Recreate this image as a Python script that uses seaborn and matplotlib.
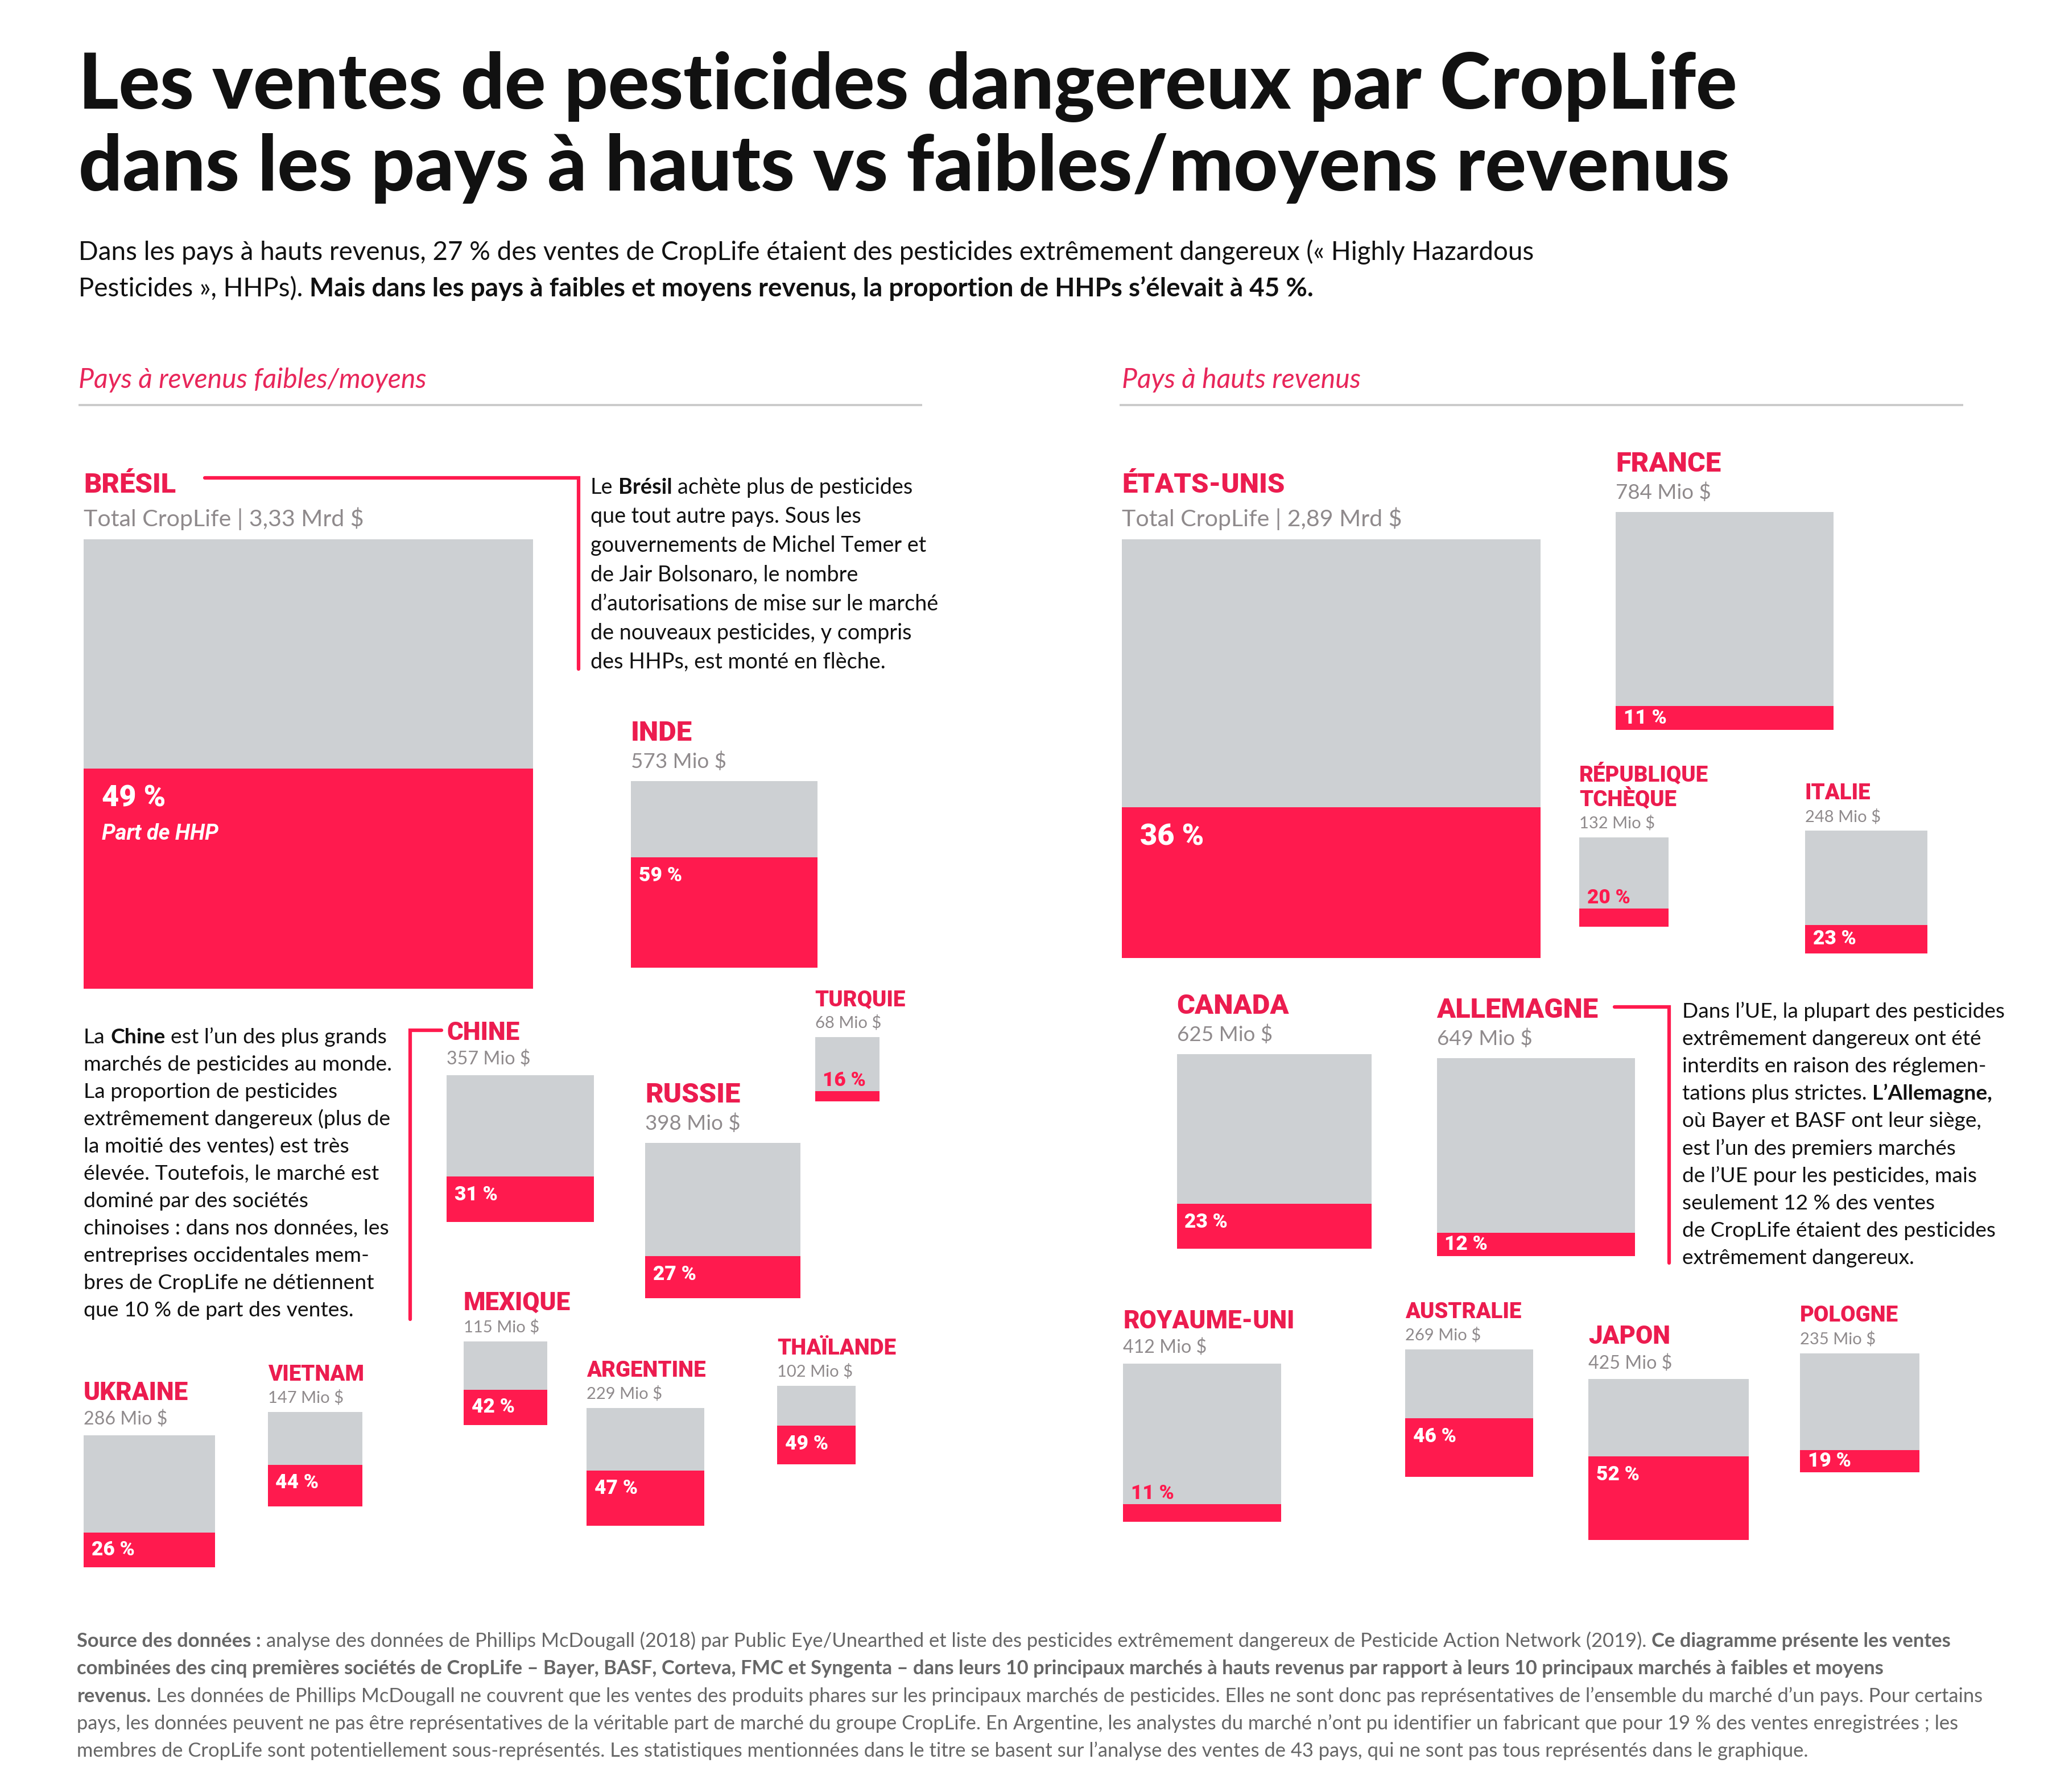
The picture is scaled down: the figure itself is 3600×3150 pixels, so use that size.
import matplotlib
matplotlib.use("Agg")
import matplotlib.pyplot as plt
import seaborn as sns
import numpy as np
import pandas as pd

# ---------------- DATA ----------------
countries_low = ["BRÉSIL", "INDE", "CHINE", "TURQUIE", "RUSSIE", "MEXIQUE",
                 "ARGENTINE", "THAÏLANDE", "UKRAINE", "VIETNAM"]
sales_low = [3330, 573, 357, 68, 398, 115, 229, 102, 286, 147]          # Mio $
hhp_low = [49, 59, 31, 16, 27, 42, 47, 49, 26, 44]                       # % HHP

countries_high = ["ÉTATS-UNIS", "FRANCE", "RÉPUBLIQUE\nTCHÈQUE", "ITALIE", "CANADA",
                  "ALLEMAGNE", "ROYAUME-UNI", "AUSTRALIE", "JAPON", "POLOGNE"]
sales_high = [2890, 784, 132, 248, 625, 649, 412, 269, 425, 235]
hhp_high = [36, 11, 20, 23, 23, 12, 11, 46, 52, 19]

title_lines = ["Les ventes de pesticides dangereux par CropLife",
               "dans les pays à hauts vs faibles/moyens revenus"]
panel_titles = ["Pays à revenus faibles/moyens", "Pays à hauts revenus"]

# ---------------- LAYOUT (positions / tiers, not data) ----------------
# country -> (box_left, box_top, name_tier, value_tier)
layout = {
    "BRÉSIL": (64, 413, "XL", "T"), "INDE": (483, 598, "XL", "A"),
    "CHINE": (342, 823, "M", "B"), "TURQUIE": (624, 794, "S", "C"),
    "RUSSIE": (494, 875, "XL", "A"), "MEXIQUE": (355, 1027, "M", "C"),
    "ARGENTINE": (449, 1078, "S", "C"), "THAÏLANDE": (595, 1061, "S", "C"),
    "UKRAINE": (64, 1099, "M", "B"), "VIETNAM": (205, 1081, "S", "C"),
    "ÉTATS-UNIS": (859, 413, "XL", "T"), "FRANCE": (1237, 392, "XL", "A"),
    "RÉPUBLIQUE\nTCHÈQUE": (1209, 641, "S", "C"), "ITALIE": (1382, 636, "S", "C"),
    "CANADA": (901, 807, "XL", "A"), "ALLEMAGNE": (1100, 810, "XL", "A"),
    "ROYAUME-UNI": (860, 1044, "M", "B"), "AUSTRALIE": (1076, 1033, "S", "C"),
    "JAPON": (1216, 1056, "M", "B"), "POLOGNE": (1378, 1036, "S", "C"),
}
label_offsets = {"T": (-36, -10), "A": (-31, -10), "B": (-27, -8), "C": (-24, -7)}

RED = "#FF1A4E"
RED_TXT = "#EC1C4F"
PINK = "#E8265A"
GREY = "#CDD0D3"
VAL_GREY = "#8F8A8C"
SRC_GREY = "#666666"
INK = "#111111"

sns.set_theme(style="white")
FAM = ["Lato", "DejaVu Sans"]
HEAVY = ["Roboto", "Lato", "DejaVu Sans"]
plt.rcParams["font.family"] = FAM

W, H = 1568, 1372
FIG_W, FIG_H, DPI = 12, 10.5, 300
fig = plt.figure(figsize=(FIG_W, FIG_H), dpi=DPI, facecolor="white")
ax = fig.add_axes([0, 0, 1, 1])
ax.set_xlim(0, W)
ax.set_ylim(H, 0)
ax.axis("off")
renderer = fig.canvas.get_renderer()
PX = W / (FIG_W * DPI)


def measure(s, **kw):
    t = ax.text(0, 0, s, **kw)
    w = t.get_window_extent(renderer).width * PX
    t.remove()
    return w


def fit(s, target, **kw):
    return 10 * target / measure(s, fontsize=10, **kw)


def rich(x, y, parts, size, color, style="normal"):
    sp = measure("n n", fontsize=size) - measure("nn", fontsize=size)
    cx = x
    for s, wt in parts:
        lead = len(s) - len(s.lstrip(" "))
        trail = len(s) - len(s.rstrip(" "))
        core = s.strip(" ")
        cx += lead * sp
        if core:
            t = ax.text(cx, y, core, fontsize=size, fontweight=wt, color=color,
                        style=style, va="baseline", ha="left")
            cx += t.get_window_extent(renderer).width * PX
        cx += trail * sp


# ---------------- TITLE / SUBTITLE ----------------
ts = fit(title_lines[0], 1267, fontweight="black")
ax.text(60, 83, title_lines[0], fontsize=ts, fontweight="black", color=INK, va="baseline")
ax.text(60, 146, title_lines[1], fontsize=ts, fontweight="black", color=INK, va="baseline")

sub1 = "Dans les pays à hauts revenus, 27 % des ventes de CropLife étaient des pesticides extrêmement dangereux (« Highly Hazardous"
ss = fit(sub1, 1112)
ax.text(60, 199, sub1, fontsize=ss, color=INK, va="baseline")
rich(60, 227, [("Pesticides », HHPs). ", "normal"),
               ("Mais dans les pays à faibles et moyens revenus, la proportion de HHPs s’élevait à 45 %.", "bold")],
     ss, INK)

# ---------------- PANEL HEADERS ----------------
hs = fit(panel_titles[0], 266, style="italic")
ax.text(60, 297, panel_titles[0], fontsize=hs, style="italic", color=PINK, va="baseline")
ax.text(859, 297, panel_titles[1], fontsize=hs, style="italic", color=PINK, va="baseline")
ax.plot([60, 706], [310, 310], color="#C9C9C9", lw=0.9, solid_capstyle="butt")
ax.plot([857, 1503], [310, 310], color="#C9C9C9", lw=0.9, solid_capstyle="butt")

# ---------------- SQUARES ----------------
K = 344 / np.sqrt(3330)  # px per sqrt(Mio $): square area proportional to sales

hv = dict(fontweight="black", family=HEAVY)
name_sizes = {"XL": fit("CANADA", 86, **hv),
              "M": fit("ROYAUME-UNI", 131, **hv),
              "S": fit("AUSTRALIE", 89, **hv)}
val_sizes = {"T": fit("Total CropLife | 3,33 Mrd $", 214),
             "A": fit("784 Mio $", 73),
             "B": fit("357 Mio $", 64),
             "C": fit("248 Mio $", 58)}
pct_big = fit("49 %", 49, **hv)
pct_small = fit("59 %", 33, **hv)
hhp_lbl = fit("Part de HHP", 89, fontweight="bold", style="italic", family=HEAVY)

df = pd.DataFrame({
    "country": countries_low + countries_high,
    "sales": sales_low + sales_high,
    "hhp": hhp_low + hhp_high,
})


def value_label(v):
    if v >= 1000:
        return "Total CropLife | " + f"{v / 1000:.2f}".replace(".", ",") + " Mrd $"
    return f"{v} Mio $"


for _, r in df.iterrows():
    left, top, ntier, vtier = layout[r.country]
    side = K * np.sqrt(r.sales)
    band = side * r.hhp / 100
    ax.bar(left, side, width=side, bottom=top, align="edge", color=GREY, lw=0)
    ax.bar(left, band, width=side, bottom=top + side - band, align="edge", color=RED, lw=0)
    red_top = top + side - band

    ndy, vdy = label_offsets[vtier]
    lines = r.country.split("\n")
    for i, ln in enumerate(lines):
        ax.text(left, top + ndy - 19 * (len(lines) - 1 - i), ln, fontsize=name_sizes[ntier],
                color=RED_TXT, va="baseline", **hv)
    ax.text(left, top + vdy, value_label(r.sales), fontsize=val_sizes[vtier],
            color=VAL_GREY, va="baseline")

    lab = f"{r.hhp} %"
    if vtier == "T":
        ax.text(left + 14, red_top + 23, lab, fontsize=pct_big, color="white", va="center", **hv)
        if r.country == "BRÉSIL":
            ax.text(left + 14, red_top + 50, "Part de HHP", fontsize=hhp_lbl, fontweight="bold",
                    style="italic", family=HEAVY, color="white", va="center")
    elif band < 15:
        ax.text(left + 6, red_top - 4, lab, fontsize=pct_small, color=RED, va="baseline", **hv)
    else:
        ax.text(left + 6, red_top + min(14, band / 2), lab, fontsize=pct_small,
                color="white", va="center", **hv)

# ---------------- CALLOUTS ----------------
ax.plot([157, 443, 443], [366, 366, 512], color=RED, lw=1.5, solid_joinstyle="miter")
ax.plot([338, 314, 314], [789, 789, 1010], color=RED, lw=1.5, solid_joinstyle="miter")
ax.plot([1236, 1278, 1278], [771, 771, 967], color=RED, lw=1.5, solid_joinstyle="miter")

bz = [[("Le ", "normal"), ("Brésil", "bold"), (" achète plus de pesticides", "normal")],
      [("que tout autre pays. Sous les", "normal")],
      [("gouvernements de Michel Temer et", "normal")],
      [("de Jair Bolsonaro, le nombre", "normal")],
      [("d’autorisations de mise sur le marché", "normal")],
      [("de nouveaux pesticides, y compris", "normal")],
      [("des HHPs, est monté en flèche.", "normal")]]
bs = fit("d’autorisations de mise sur le marché", 266)
for i, parts in enumerate(bz):
    rich(452, 378 + 22.3 * i, parts, bs, INK)

ch = [[("La ", "normal"), ("Chine", "bold"), (" est l’un des plus grands", "normal")],
      [("marchés de pesticides au monde.", "normal")],
      [("La proportion de pesticides", "normal")],
      [("extrêmement dangereux (plus de", "normal")],
      [("la moitié des ventes) est très", "normal")],
      [("élevée. Toutefois, le marché est", "normal")],
      [("dominé par des sociétés", "normal")],
      [("chinoises : dans nos données, les", "normal")],
      [("entreprises occidentales mem-", "normal")],
      [("bres de CropLife ne détiennent", "normal")],
      [("que 10 % de part des ventes.", "normal")]]
cs = fit("marchés de pesticides au monde.", 236)
for i, parts in enumerate(ch):
    rich(64, 799 + 20.9 * i, parts, cs, INK)

de = [[("Dans l’UE, la plupart des pesticides", "normal")],
      [("extrêmement dangereux ont été", "normal")],
      [("interdits en raison des réglemen-", "normal")],
      [("tations plus strictes. ", "normal"), ("L’Allemagne,", "bold")],
      [("où Bayer et BASF ont leur siège,", "normal")],
      [("est l’un des premiers marchés", "normal")],
      [("de l’UE pour les pesticides, mais", "normal")],
      [("seulement 12 % des ventes", "normal")],
      [("de CropLife étaient des pesticides", "normal")],
      [("extrêmement dangereux.", "normal")]]
ds = fit("Dans l’UE, la plupart des pesticides", 247)
for i, parts in enumerate(de):
    rich(1288, 779 + 21 * i, parts, ds, INK)

# ---------------- SOURCE ----------------
src = [[("Source des données :", "bold"),
        (" analyse des données de Phillips McDougall (2018) par Public Eye/Unearthed et liste des pesticides extrêmement dangereux de Pesticide Action Network (2019). ", "normal"),
        ("Ce diagramme présente les ventes", "bold")],
       [("combinées des cinq premières sociétés de CropLife – Bayer, BASF, Corteva, FMC et Syngenta – dans leurs 10 principaux marchés à hauts revenus par rapport à leurs 10 principaux marchés à faibles et moyens", "bold")],
       [("revenus.", "bold"),
        (" Les données de Phillips McDougall ne couvrent que les ventes des produits phares sur les principaux marchés de pesticides. Elles ne sont donc pas représentatives de l’ensemble du marché d’un pays. Pour certains", "normal")],
       [("pays, les données peuvent ne pas être représentatives de la véritable part de marché du groupe CropLife. En Argentine, les analystes du marché n’ont pu identifier un fabricant que pour 19 % des ventes enregistrées ; les", "normal")],
       [("membres de CropLife sont potentiellement sous-représentés. Les statistiques mentionnées dans le titre se basent sur l’analyse des ventes de 43 pays, qui ne sont pas tous représentés dans le graphique.", "normal")]]
srs = fit(src[4][0][0], 1321)
for i, parts in enumerate(src):
    rich(59, 1261 + 21 * i, parts, srs, SRC_GREY)

fig.savefig("out.png", dpi=DPI, facecolor="white")
